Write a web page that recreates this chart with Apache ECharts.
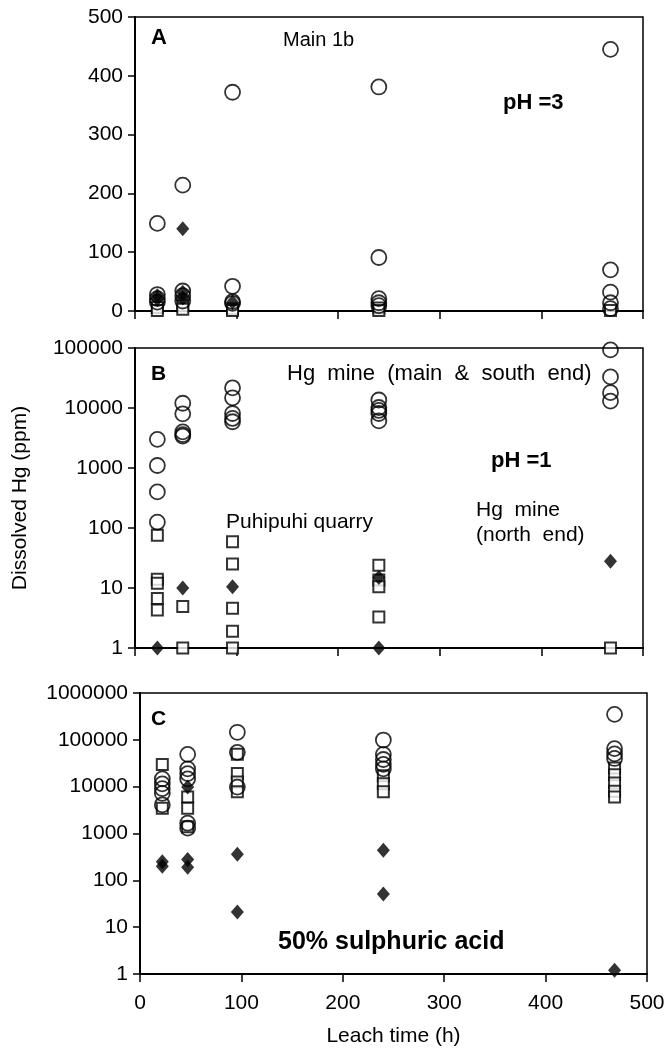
<!DOCTYPE html>
<html>
<head>
<meta charset="utf-8">
<script src="https://cdn.jsdelivr.net/npm/echarts@6/dist/echarts.min.js"></script>
<style>
html, body { margin: 0; padding: 0; background: #fff; }
#main { width: 672px; height: 1048px; }
</style>
</head>
<body>
<div id="main"></div>
<script>
// leach times (h), one column of points per time
const leachTimes = [22, 47, 96, 240, 468];

// panel A - pH 3 (linear, ppm); one list per leach time
const circlesA  = [[149, 28, 21, 15], [214, 34, 26, 17], [372, 42, 16, 13], [381, 91, 21, 14, 9], [445, 70, 32, 14, 4]];
const squaresA  = [[6, 1], [9, 3], [4, 1], [5, 1], [1]];
const diamondsA = [[26, 20], [140, 32, 22], [15], [], []];

// panel B - pH 1 (log)
const circlesB  = [[3000, 1100, 400, 125], [12000, 8000, 4000, 3600, 3400], [21700, 14800, 8100, 6700, 5900], [13600, 10200, 9100, 8100, 6100], [93000, 33000, 18000, 13000]];
const squaresB  = [[76, 14, 12, 6.7, 4.3], [4.9, 1], [59, 25, 4.6, 1.9, 1], [24, 13.6, 10.5, 3.3], [1]];
const diamondsB = [[1], [10], [10.5], [15, 1], [28]];

// panel C - 50% sulphuric acid (log)
const circlesC  = [[14700, 11500, 9100, 7200, 4100], [49000, 24000, 19000, 14700, 1660, 1300], [145000, 54000, 9800], [99000, 49000, 38000, 30000, 24000], [350000, 65000, 50000, 40000]];
const squaresC  = [[29600, 3450], [6000, 3450, 1400], [49000, 19000, 12600, 7800], [17000, 11500, 7800], [25000, 18000, 12000, 8000, 6000]];
const diamondsC = [[250, 200], [9800, 280, 190], [360, 21], [440, 51], [1.2]];

const xTicks = [0, 100, 200, 300, 400, 500];

function toPoints(groups) {
    const pts = [];
    groups.forEach((vals, i) => vals.forEach(v => pts.push([leachTimes[i], v])));
    return pts;
}

const FONT = 'Liberation Sans';
const chart = echarts.init(document.getElementById('main'));

const grids = [
    { left: 135, top: 17, width: 508, height: 294 },
    { left: 135, top: 348, width: 508, height: 300 },
    { left: 140, top: 693, width: 507, height: 285 }
].map(g => Object.assign(g, { show: true, borderColor: '#000', borderWidth: 1.5, containLabel: false }));

function xAxisFor(i, showLabels) {
    return {
        type: 'value', gridIndex: i, min: xTicks[0], max: xTicks[xTicks.length - 1], interval: 100,
        axisLine: { lineStyle: { color: '#000', width: 2 } },
        axisTick: { show: true, length: 8, lineStyle: { color: '#000', width: 1.5 } },
        axisLabel: { show: showLabels, color: '#000', fontFamily: FONT, fontSize: 21, margin: 19 },
        splitLine: { show: false },
        name: showLabels ? 'Leach time (h)' : '',
        nameLocation: 'middle', nameGap: 52,
        nameTextStyle: { color: '#000', fontFamily: FONT, fontSize: 21 }
    };
}

const yLabel = { color: '#000', fontFamily: FONT, fontSize: 21, margin: 12, formatter: v => String(Math.round(v)) };
const yCommon = {
    axisLine: { show: true, lineStyle: { color: '#000', width: 2 } },
    axisTick: { show: true, length: 7, lineStyle: { color: '#000', width: 1.5 } },
    splitLine: { show: false }
};

const yAxes = [
    Object.assign({ type: 'value', gridIndex: 0, min: 0, max: 500, interval: 100, axisLabel: yLabel }, yCommon),
    Object.assign({ type: 'log', logBase: 10, gridIndex: 1, min: 1, max: 100000, splitNumber: 5, axisLabel: yLabel,
        name: 'Dissolved Hg (ppm)', nameLocation: 'middle', nameGap: 104,
        nameTextStyle: { color: '#000', fontFamily: FONT, fontSize: 21 } }, yCommon),
    Object.assign({ type: 'log', logBase: 10, gridIndex: 2, min: 1, max: 1000000, splitNumber: 6, axisLabel: yLabel }, yCommon)
];

function scatter(name, idx, groups, kind) {
    const styles = {
        square:  { symbol: 'rect', symbolSize: 11, itemStyle: { color: '#fff', borderColor: '#000', borderWidth: 2 }, z: 2 },
        circle:  { symbol: 'circle', symbolSize: 15, itemStyle: { color: 'transparent', borderColor: '#000', borderWidth: 1.8 }, z: 3 },
        diamond: { symbol: 'diamond', symbolSize: [13, 15], itemStyle: { color: '#000' }, z: 4 }
    };
    return Object.assign({
        name: name, type: 'scatter', xAxisIndex: idx, yAxisIndex: idx, clip: false,
        data: toPoints(groups), emphasis: { disabled: true }
    }, styles[kind]);
}

const series = [
    scatter('A squares', 0, squaresA, 'square'),
    scatter('A circles', 0, circlesA, 'circle'),
    scatter('A diamonds', 0, diamondsA, 'diamond'),
    scatter('B squares', 1, squaresB, 'square'),
    scatter('B circles', 1, circlesB, 'circle'),
    scatter('B diamonds', 1, diamondsB, 'diamond'),
    scatter('C squares', 2, squaresC, 'square'),
    scatter('C circles', 2, circlesC, 'circle'),
    scatter('C diamonds', 2, diamondsC, 'diamond')
];

function note(text, x, y, size, bold) {
    return { type: 'text', left: x, top: y, z: 10,
        style: { text: text, fill: '#000', font: (bold ? 'bold ' : '') + size + 'px ' + FONT } };
}

const option = {
    animation: false,
    grid: grids,
    xAxis: [xAxisFor(0, false), xAxisFor(1, false), xAxisFor(2, true)],
    yAxis: yAxes,
    series: series,
    graphic: [
        note('A', 151, 27, 22, true),
        note('Main 1b', 283, 30, 20, false),
        note('pH =3', 503, 92, 22, true),
        note('B', 151, 364, 21, true),
        note('Hg  mine  (main  &  south  end)', 287, 363, 22, false),
        note('pH =1', 491, 450, 22, true),
        note('Puhipuhi quarry', 226, 512, 21, false),
        note('Hg  mine', 476, 500, 21, false),
        note('(north  end)', 476, 525, 21, false),
        note('C', 151, 709, 21, true),
        note('50% sulphuric acid', 278, 930, 25, true)
    ]
};

chart.setOption(option);
</script>
</body>
</html>
